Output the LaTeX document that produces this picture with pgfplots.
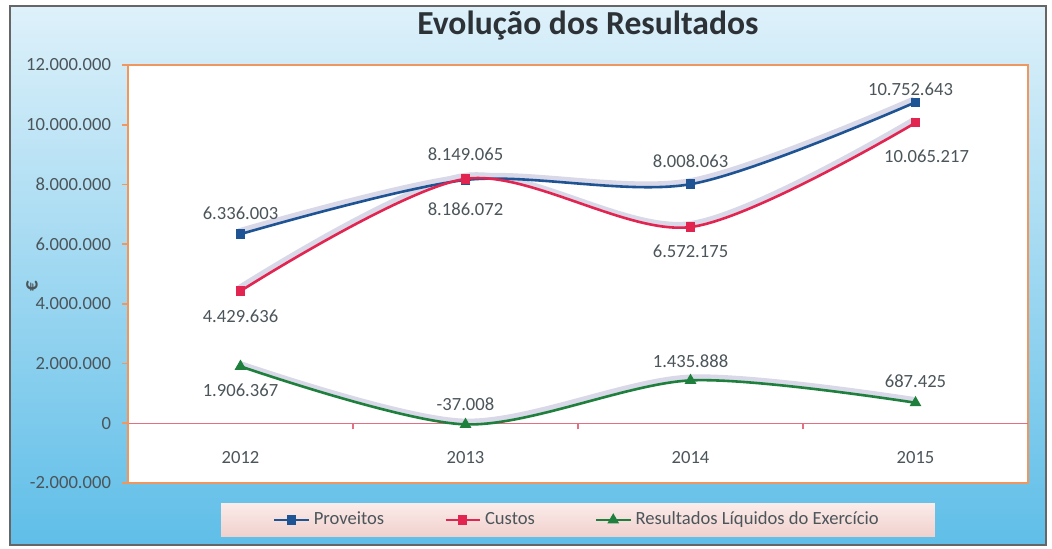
\documentclass[border=0pt]{standalone}
\usepackage{fontspec}
\setmainfont{Carlito}
\usepackage{pgfplots}
\usepackage{pgfplotstable}
\pgfplotsset{compat=1.18}

\definecolor{provcol}{RGB}{31,84,148}
\definecolor{custcol}{RGB}{226,36,80}
\definecolor{rescol}{RGB}{30,128,60}
\definecolor{shadowcol}{RGB}{216,216,232}
\definecolor{bordercol}{RGB}{240,150,95}
\definecolor{zerocol}{RGB}{228,110,130}
\definecolor{lblcol}{RGB}{75,85,90}
\definecolor{titlecol}{RGB}{45,50,55}
\definecolor{bgtop}{RGB}{222,241,250}
\definecolor{bgmid}{RGB}{160,214,240}
\definecolor{bgbot}{RGB}{95,190,232}
\definecolor{legtop}{RGB}{251,236,234}
\definecolor{legbot}{RGB}{240,208,204}

\newcommand\fs{\fontsize{9.3}{11}\selectfont}

% x y label dx dy  (dx, dy: label offset in pt)
\pgfplotstableread{
x y lbl dx dy
0 6336003 6.336.003 0 10.5
1 8149065 8.149.065 0 13
2 8008063 8.008.063 0 11.5
3 10752643 10.752.643 -2.5 6.5
}\proveitos
\pgfplotstableread{
x y lbl dx dy
0 4429636 4.429.636 0 -12.5
1 8186072 8.186.072 0 -15
2 6572175 6.572.175 0 -12
3 10065217 10.065.217 5.5 -17
}\custos
\pgfplotstableread{
x y lbl dx dy
0 1906367 1.906.367 0 -12
1 -37008 -37.008 0 10
2 1435888 1.435.888 0 9.5
3 687425 687.425 0 11
}\resultados

\pgfplotsset{
  lbls/.style={
    nodes near coords,
    point meta=explicit symbolic,
    visualization depends on={\thisrow{dx} \as \dx},
    visualization depends on={\thisrow{dy} \as \dy},
    every node near coord/.append style={anchor=center, xshift=\dx,
      yshift=\dy, text=lblcol, font=\fs},
  },
  shadowline/.style={shadowcol, line width=2.6pt, smooth, no marks,
    forget plot, xshift=-0.8pt, yshift=1.6pt},
}

\begin{document}
\begin{tikzpicture}
\fill[white] (0,0) rectangle (526pt,274.5pt);
\shade[top color=bgtop, middle color=bgmid, bottom color=bgbot]
  (5pt,2pt) rectangle (523pt,271.5pt);
\draw[black!60, line width=0.6pt] (5pt,2pt) rectangle (523pt,271.5pt);
\begin{axis}[
    at={(64pt,33pt)}, anchor=south west,
    width=450pt, height=209pt, scale only axis,
    axis x line*=middle, axis y line*=left,
    hide obscured y ticks=false,
    axis background/.style={fill=white, draw=bordercol, line width=1.2pt},
    y axis line style={draw=bordercol, line width=1.2pt},
    x axis line style={draw=zerocol, line width=0.6pt},
    xmin=-0.5, xmax=3.5,
    ymin=-2000000, ymax=12000000,
    xtick={0,1,2,3},
    xticklabels={2012,2013,2014,2015},
    xtick style={draw=none},
    extra x ticks={0.5,1.5,2.5},
    extra x tick labels={},
    extra x tick style={xtick style={draw=zerocol, line width=0.6pt}},
    ytick={-2000000,0,2000000,4000000,6000000,8000000,10000000,12000000},
    ytick style={draw=bordercol, line width=0.8pt},
    tick align=outside,
    major tick length=3pt,
    scaled y ticks=false,
    yticklabel style={/pgf/number format/.cd, fixed, 1000 sep={.},
      assume math mode=true, /tikz/.cd, font=\fs, text=lblcol, xshift=-2pt},
    xticklabel style={font=\fs, text=lblcol, yshift=-7.5pt},
    title={Evolução dos Resultados},
    title style={at={(axis description cs:0.511,1)}, anchor=center,
      yshift=13.5pt, font=\fontsize{16.8}{20}\selectfont\bfseries,
      text=titlecol},
    ylabel={€},
    ylabel style={at={(axis description cs:-0.1067,0.47)}, anchor=center,
      font=\fontsize{10.5}{12}\selectfont\bfseries, text=lblcol},
    legend columns=-1,
    legend style={at={(axis description cs:0.5,-0.0885)}, anchor=center,
      draw=none, top color=legtop, bottom color=legbot,
      inner xsep=26pt, inner ysep=2.5pt, font=\fs, text=lblcol,
      /tikz/every even column/.append style={column sep=28pt}},
  ]
\addplot[shadowline] table[x=x, y=y] {\proveitos};
\addplot[shadowline] table[x=x, y=y] {\custos};
\addplot[shadowline] table[x=x, y=y] {\resultados};

\addplot[provcol, line width=1.3pt, smooth, mark=square*, mark size=1.7pt,
  mark options={solid}, lbls] table[x=x, y=y, meta=lbl] {\proveitos};
\addplot[custcol, line width=1.3pt, smooth, mark=square*, mark size=1.7pt,
  mark options={solid}, lbls] table[x=x, y=y, meta=lbl] {\custos};
\addplot[rescol, line width=1.3pt, smooth, mark=triangle*, mark size=2.1pt,
  mark options={solid}, lbls] table[x=x, y=y, meta=lbl] {\resultados};
\legend{Proveitos, Custos, Resultados Líquidos do Exercício}
\end{axis}
\end{tikzpicture}
\end{document}
